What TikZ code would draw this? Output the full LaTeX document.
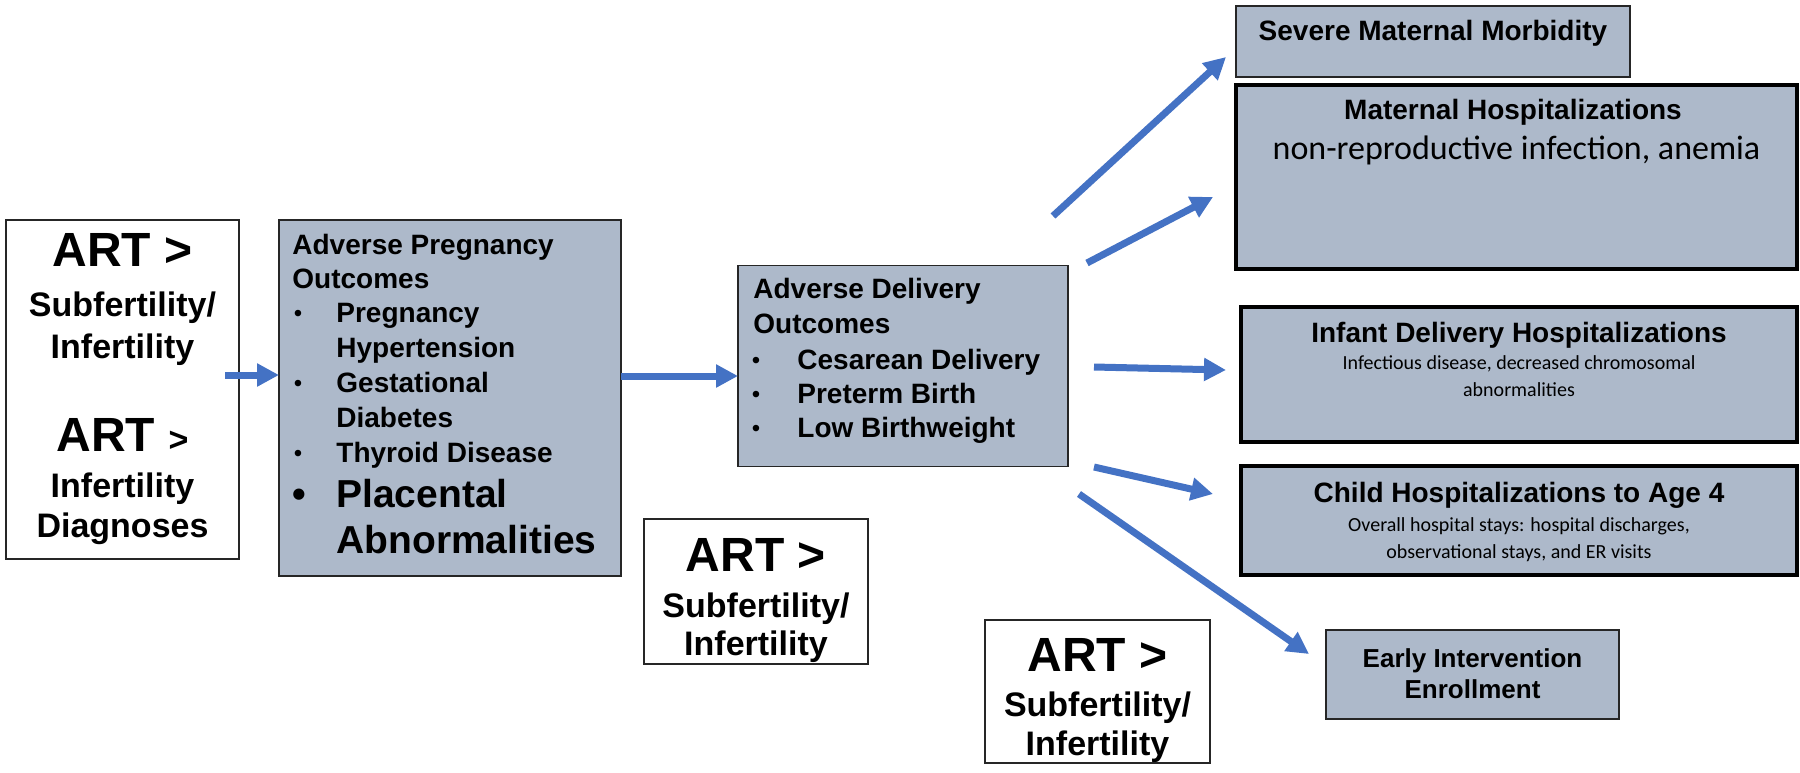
\documentclass[tikz,border=0pt]{standalone}
\usepackage{fontspec}
\setmainfont{Liberation Sans}
\newfontfamily\calib{Carlito}
\usetikzlibrary{arrows.meta}
\definecolor{boxfill}{HTML}{ADB9CA}
\definecolor{arrowblue}{HTML}{4472C4}
\newcommand\fART{\fontsize{24}{28}\selectfont\bfseries}
\newcommand\fSUB{\fontsize{17}{20}\selectfont\bfseries}
\newcommand\fBODY{\fontsize{14}{17}\selectfont\bfseries}
\newcommand\fBUL{\fontsize{12}{14}\selectfont}
\newcommand\fBIG{\fontsize{19.5}{23}\selectfont\bfseries}
\newcommand\fEIE{\fontsize{13}{16}\selectfont\bfseries}
\newcommand\fCALA{\fontsize{17}{20}\selectfont\calib}
\newcommand\fCALB{\fontsize{10}{13}\selectfont\calib}
\begin{document}
\begin{tikzpicture}[x=0.5pt,y=-0.5pt,
  whitebox/.style={draw=black!85,line width=0.7pt,fill=white,inner sep=0pt,outer sep=0pt},
  thinbox/.style={draw=black!85,line width=0.7pt,fill=boxfill,inner sep=0pt,outer sep=0pt},
  thickbox/.style={draw=black,line width=1.7pt,fill=boxfill,inner sep=0pt,outer sep=0pt},
  txt/.style={inner sep=0pt,anchor=base},
  ltxt/.style={inner sep=0pt,anchor=base west},
  conn/.style={draw=arrowblue,line width=3.5pt,-{Triangle[length=11pt,width=11pt]}}]
\useasboundingbox (0,0) rectangle (1800,772);

% boxes
\node[whitebox,minimum width=116.5pt,minimum height=169.5pt] (b1) at (122.5,389.5) {};
\node[thinbox,minimum width=171pt,minimum height=178pt] (b2) at (450,398) {};
\node[thinbox,minimum width=165pt,minimum height=100.5pt] (b3) at (903,366) {};
\node[whitebox,minimum width=112pt,minimum height=72.5pt] (b4) at (756,591.5) {};
\node[whitebox,minimum width=112.5pt,minimum height=71.5pt] (b5) at (1097.5,691.5) {};
\node[thinbox,minimum width=197pt,minimum height=35.5pt] (smm) at (1433,41.5) {};
\node[thickbox,minimum width=280.5pt,minimum height=92pt] (mh) at (1516.5,177) {};
\node[thickbox,minimum width=278pt,minimum height=67.5pt] (idh) at (1519,374.5) {};
\node[thickbox,minimum width=278pt,minimum height=54.5pt] (ch) at (1519,520.5) {};
\node[thinbox,minimum width=146.5pt,minimum height=44.5pt] (eie) at (1472.5,674.5) {};

% box 1 text
\node[txt,font=\fART] (t1a) at (122.5,266) {ART >};
\node[txt,font=\fSUB] (t1b) at (122.5,316) {Subfertility/};
\node[txt,font=\fSUB] (t1c) at (122.5,358) {Infertility};
\node[txt,font=\fART] (t1d) at (122.5,451) {ART {\fSUB>}};
\node[txt,font=\fSUB] (t1e) at (122.5,497) {Infertility};
\node[txt,font=\fSUB] (t1f) at (122.5,537) {Diagnoses};

% box 2 text
\node[ltxt,font=\fBODY] (t2a) at (292,254) {Adverse Pregnancy};
\node[ltxt,font=\fBODY] (t2b) at (292,288) {Outcomes};
\node[txt,font=\fBUL] (p1) at (298,321) {•};
\node[ltxt,font=\fBODY] (t2c) at (336,322) {Pregnancy};
\node[ltxt,font=\fBODY] (t2d) at (336,357) {Hypertension};
\node[txt,font=\fBUL] (p2) at (298,391) {•};
\node[ltxt,font=\fBODY] (t2e) at (336,392) {Gestational};
\node[ltxt,font=\fBODY] (t2f) at (336,427) {Diabetes};
\node[txt,font=\fBUL] (p3) at (298,461) {•};
\node[ltxt,font=\fBODY] (t2g) at (336,462) {Thyroid Disease};
\node[txt,font=\fBIG] (p4) at (299,507) {•};
\node[ltxt,font=\fBIG] (t2h) at (336,507) {Placental};
\node[ltxt,font=\fBIG] (t2i) at (336,553) {Abnormalities};

% box 3 text
\node[ltxt,font=\fBODY] (t3a) at (753,298) {Adverse Delivery};
\node[ltxt,font=\fBODY] (t3b) at (753,333) {Outcomes};
\node[txt,font=\fBUL] (q1) at (756,368) {•};
\node[ltxt,font=\fBODY] (t3c) at (797,369) {Cesarean Delivery};
\node[txt,font=\fBUL] (q2) at (756,402) {•};
\node[ltxt,font=\fBODY] (t3d) at (797,403) {Preterm Birth};
\node[txt,font=\fBUL] (q3) at (756,436) {•};
\node[ltxt,font=\fBODY] (t3e) at (797,437) {Low Birthweight};

% box 4 text
\node[txt,font=\fART] (t4a) at (756,571) {ART >};
\node[txt,font=\fSUB] (t4b) at (756,617) {Subfertility/};
\node[txt,font=\fSUB] (t4c) at (756,655) {Infertility};

% box 5 text
\node[txt,font=\fART] (t5a) at (1097.5,671) {ART >};
\node[txt,font=\fSUB] (t5b) at (1097.5,716) {Subfertility/};
\node[txt,font=\fSUB] (t5c) at (1097.5,755) {Infertility};

% right boxes text
\node[txt,font=\fBODY] (ts) at (1433,40) {Severe Maternal Morbidity};
\node[txt,font=\fBODY] (tm1) at (1513,119) {Maternal Hospitalizations};
\node[txt,font=\fCALA] (tm2) at (1516.5,159) {non-reproductive infection, anemia};
\node[txt,font=\fBODY] (ti1) at (1519,342) {Infant Delivery Hospitalizations};
\node[txt,font=\fCALB] (ti2) at (1519,369) {Infectious disease, decreased chromosomal};
\node[txt,font=\fCALB] (ti3) at (1519,396) {abnormalities};
\node[txt,font=\fBODY] (tc1) at (1519,502) {Child Hospitalizations to Age 4};
\node[txt,font=\fCALB] (tc2) at (1519,531) {Overall hospital stays: hospital discharges,};
\node[txt,font=\fCALB] (tc3) at (1519,558) {observational stays, and ER visits};
\node[txt,font=\fEIE] (te1) at (1472.5,667) {Early Intervention};
\node[txt,font=\fEIE] (te2) at (1472.5,698) {Enrollment};

% connectors
\coordinate (s1) at (225,375);
\coordinate (s2) at (621,376);
\draw[conn] (s1) -- (s1 -| b2.west);
\draw[conn] (s2) -- (s2 -| b3.west);
\coordinate (d1s) at (1053,216);
\coordinate (d1e) at (1226,57);
\coordinate (d2s) at (1087,263);
\coordinate (d2e) at (1213,197);
\coordinate (d3s) at (1094,367);
\coordinate (d3e) at (1226,370);
\coordinate (d4s) at (1094,467);
\coordinate (d4e) at (1213,494);
\coordinate (d5s) at (1079,494);
\coordinate (d5e) at (1309,654);
\draw[conn] (d1s) -- (d1e);
\draw[conn] (d2s) -- (d2e);
\draw[conn] (d3s) -- (d3e);
\draw[conn] (d4s) -- (d4e);
\draw[conn] (d5s) -- (d5e);
\end{tikzpicture}
\end{document}
